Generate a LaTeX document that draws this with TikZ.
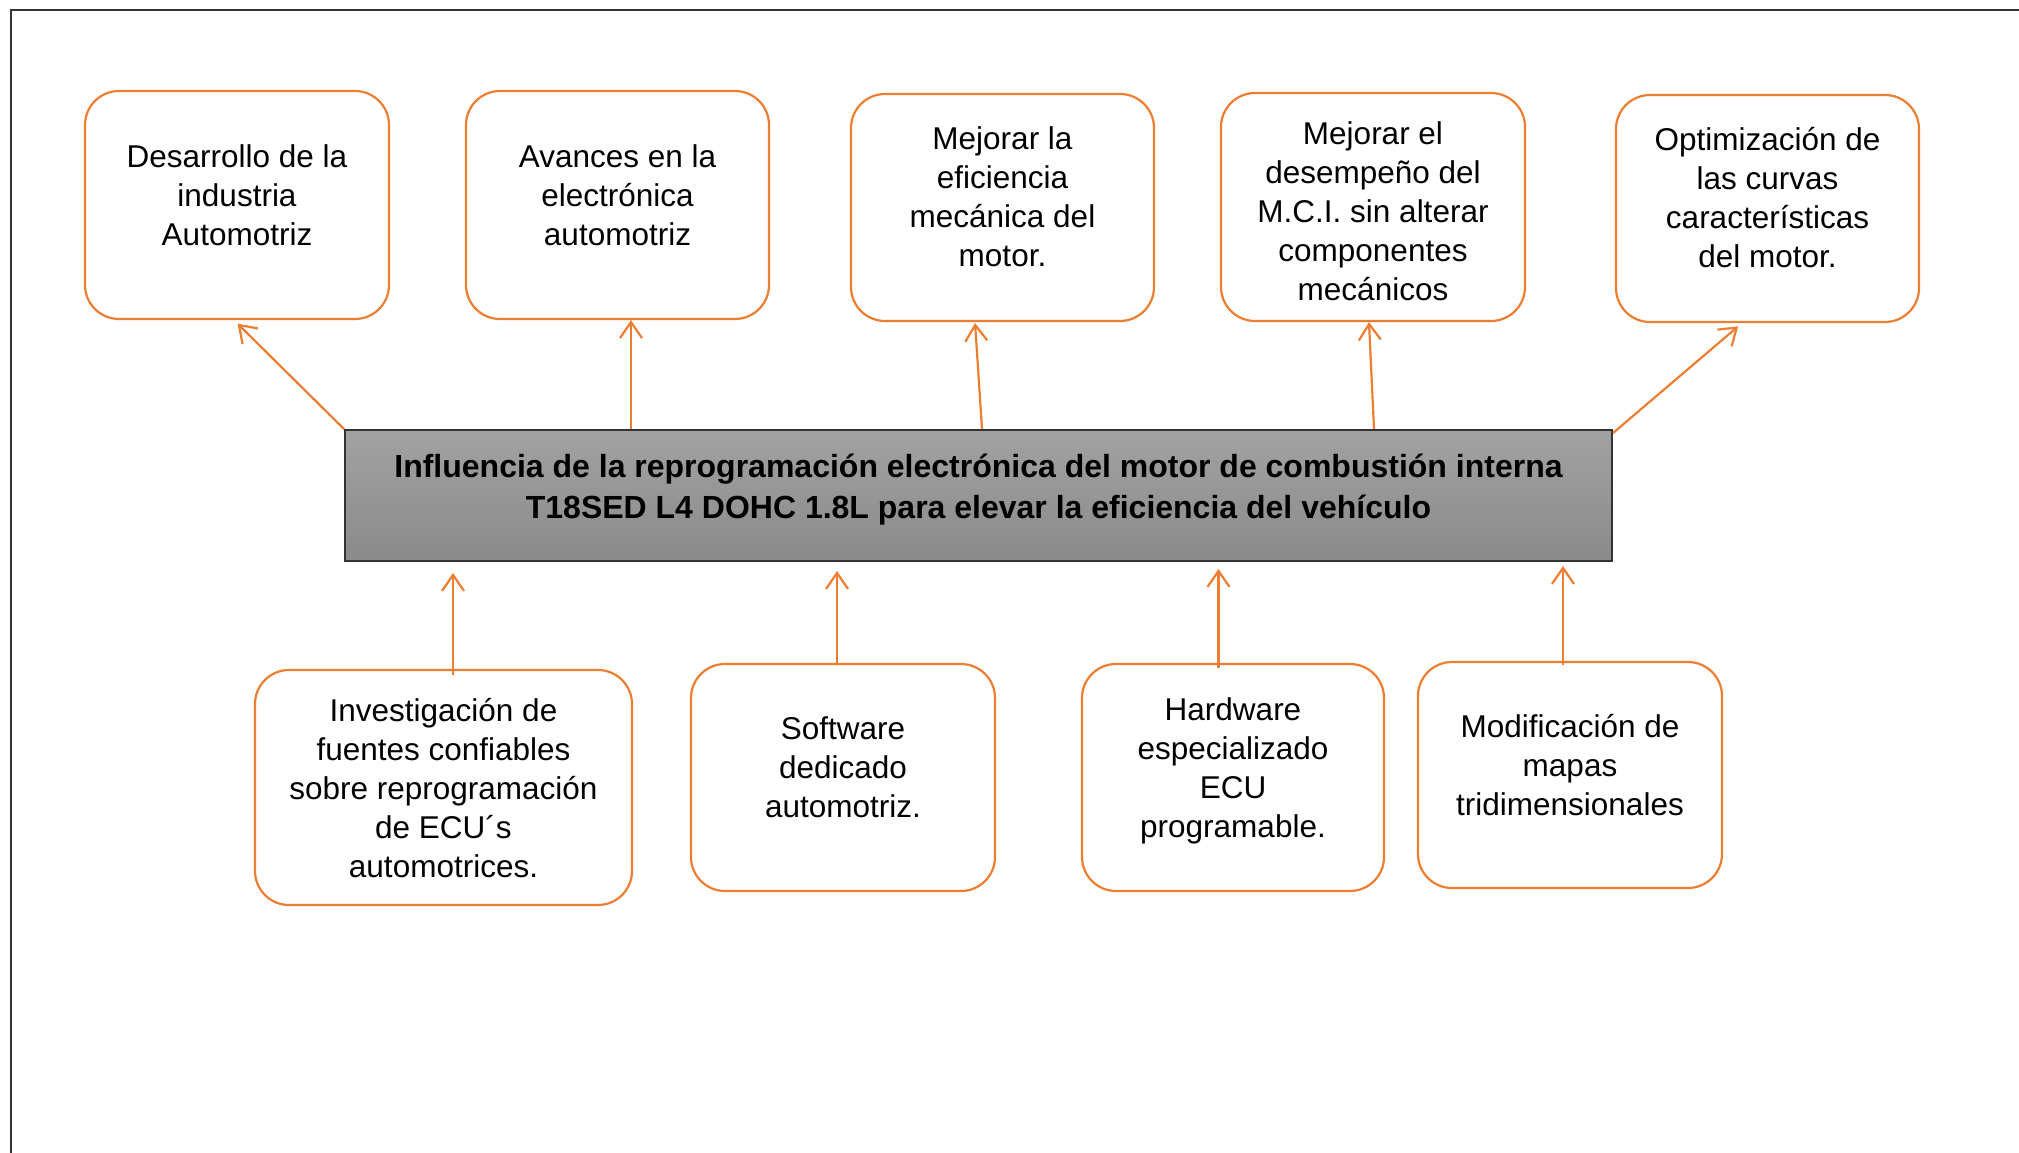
\documentclass[tikz,border=0pt]{standalone}
\usepackage{fontspec}
\setmainfont{Liberation Sans}
\usetikzlibrary{arrows.meta,calc}
\definecolor{org}{HTML}{ED7D31}
\definecolor{gtop}{HTML}{A2A2A2}
\definecolor{gbot}{HTML}{8A8A8A}
\begin{document}
\begin{tikzpicture}[x=1pt,y=-1pt,
  obox/.style={draw=org, line width=2.2pt, rounded corners=34pt, fill=white, inner sep=0pt},
  txt/.style={align=center, inner sep=0pt, font=\fontsize{31.5}{39}\selectfont},
  mainbox/.style={draw=black!80, line width=2pt, top color=gtop, bottom color=gbot, inner sep=0pt, minimum width=1267pt, minimum height=131pt},
  maintxt/.style={align=center, inner sep=0pt, font=\bfseries\fontsize{32}{41}\selectfont},
  arr/.style={draw=org, line width=2.2pt, -{Straight Barb[length=16pt,width=22pt,line width=2.2pt]}},
  frame/.style={draw=black!80, line width=1.5pt}
]
\useasboundingbox (0,0) rectangle (2019,1153);
\draw[frame] (11,1153) -- (11,10) -- (2019,10);

% central box
\node[mainbox] (c) at (978.5,495.5) {};
\node[maintxt] (ct) at (978.5,489.5) {Influencia de la reprogramación electrónica del motor de combustión interna\\T18SED L4 DOHC 1.8L para elevar la eficiencia del vehículo};

% top boxes
\node[obox, minimum width=304pt, minimum height=228pt] (b1) at (237,205) {};
\node[txt] (t1) at (237,195) {Desarrollo de la\\industria\\Automotriz};
\node[obox, minimum width=303pt, minimum height=228pt] (b2) at (617.5,205) {};
\node[txt] (t2) at (617.5,195) {Avances en la\\electrónica\\automotriz};
\node[obox, minimum width=303pt, minimum height=227pt] (b3) at (1002.5,207.5) {};
\node[txt] (t3) at (1002.5,197) {Mejorar la\\eficiencia\\mecánica del\\motor.};
\node[obox, minimum width=304pt, minimum height=228pt] (b4) at (1373,207) {};
\node[txt] (t4) at (1373,211) {Mejorar el\\desempeño del\\M.C.I. sin alterar\\componentes\\mecánicos};
\node[obox, minimum width=303pt, minimum height=227pt] (b5) at (1767.5,208.5) {};
\node[txt] (t5) at (1767.5,198) {Optimización de\\las curvas\\características\\del motor.};

% bottom boxes
\node[obox, minimum width=377pt, minimum height=235pt] (d1) at (443.5,787.5) {};
\node[txt] (u1) at (443.5,788) {Investigación de\\fuentes confiables\\sobre reprogramación\\de ECU´s\\automotrices.};
\node[obox, minimum width=304pt, minimum height=227pt] (d2) at (843,777.5) {};
\node[txt] (u2) at (843,767) {Software\\dedicado\\automotriz.};
\node[obox, minimum width=302pt, minimum height=227pt] (d3) at (1233,777.5) {};
\node[txt] (u3) at (1233,771) {Hardware\\especializado\\ECU\\programable.};
\node[obox, minimum width=304pt, minimum height=226pt] (d4) at (1570,775) {};
\node[txt] (u4) at (1570,765) {Modificación de\\mapas\\tridimensionales};

% arrows up from central box
\draw[arr, shorten >=5pt] (c.north west) -- ([xshift=-3pt]b1.south);
\draw[arr] ([xshift=13.5pt]b2.south |- c.north) -- ([xshift=13.5pt]b2.south);
\draw[arr, shorten >=1pt] ([xshift=3.5pt]c.north) -- ([xshift=-27.5pt]b3.south);
\draw[arr] ([xshift=395.5pt]c.north) -- ([xshift=-4pt]b4.south);
\draw[arr, shorten >=5pt] ([yshift=-4pt]c.north east) -- ([xshift=-25.5pt]b5.south);

% arrows up into central box
\draw[arr, shorten <=-6pt, shorten >=11pt] ([xshift=9.5pt]d1.north) -- ([xshift=9.5pt]d1.north |- c.south);
\draw[arr, shorten <=-1pt, shorten >=9pt] ([xshift=-6pt]d2.north) -- ([xshift=-6pt]d2.north |- c.south);
\draw[arr, shorten <=-5pt, shorten >=7pt] ([xshift=-14.5pt]d3.north) -- ([xshift=-14.5pt]d3.north |- c.south);
\draw[arr, shorten <=-4pt, shorten >=4pt] ([xshift=-7pt]d4.north) -- ([xshift=-7pt]d4.north |- c.south);
\end{tikzpicture}
\end{document}
